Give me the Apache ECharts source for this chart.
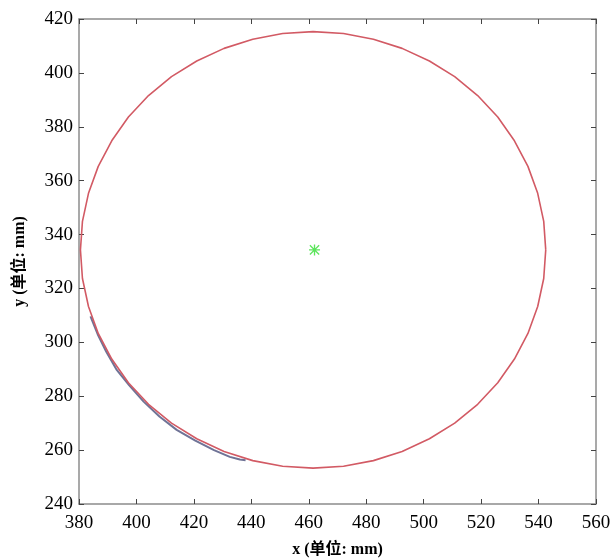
<!DOCTYPE html>
<html>
<head>
<meta charset="utf-8">
<script src="https://cdn.jsdelivr.net/npm/echarts@6/dist/echarts.min.js"></script>
<style>html,body{margin:0;padding:0;background:#fff;}#c{width:613px;height:558px;}</style>
</head>
<body>
<div id="c"></div>
<script>
// Red fitted circle (polygon vertices)
const circleX = [542.5, 541.8, 539.7, 536.3, 531.6, 525.8, 518.8, 510.8, 502.0, 492.5, 482.5, 472.1, 461.5, 450.9, 440.5, 430.5, 421.0, 412.2, 404.2, 397.2, 391.4, 386.7, 383.3, 381.2, 380.5, 381.2, 383.3, 386.7, 391.4, 397.2, 404.2, 412.2, 421.0, 430.5, 440.5, 450.9, 461.5, 472.1, 482.5, 492.5, 502.0, 510.8, 518.8, 525.8, 531.6, 536.3, 539.7, 541.8, 542.5];
const circleY = [334.3, 344.9, 355.3, 365.3, 374.8, 383.6, 391.6, 398.6, 404.4, 409.1, 412.5, 414.6, 415.3, 414.6, 412.5, 409.1, 404.4, 398.6, 391.6, 383.6, 374.8, 365.3, 355.3, 344.9, 334.3, 323.7, 313.3, 303.3, 293.8, 285.0, 277.0, 270.0, 264.2, 259.5, 256.1, 254.0, 253.3, 254.0, 256.1, 259.5, 264.2, 270.0, 277.0, 285.0, 293.8, 303.3, 313.3, 323.7, 334.3];
// Blue measured arc
const arcX = [384.0, 386.5, 389.5, 393.0, 397.5, 402.5, 408.0, 414.0, 420.5, 427.0, 432.5, 436.0, 438.0];
const arcY = [309.6, 303.0, 296.5, 290.0, 284.0, 278.0, 272.5, 267.5, 263.5, 260.0, 257.5, 256.5, 256.2];
// Centre
const centerPt = [462.0, 334.3];
const xTicks = [380, 560, 20];
const yTicks = [240, 420, 20];

const zip = (a, b) => a.map((v, i) => [v, b[i]]);
const font = '"Liberation Serif", "Times New Roman", "Noto Sans CJK SC", serif';
const axCol = '#8c8c8c';

const chart = echarts.init(document.getElementById('c'));
const baseX = {
  type: 'value', min: xTicks[0], max: xTicks[1], interval: xTicks[2],
  axisLine: {show: true, onZero: false, lineStyle: {color: axCol, width: 1.5}},
  axisTick: {show: true, inside: true, length: 5, lineStyle: {color: '#444', width: 1}},
  splitLine: {show: false}
};
const baseY = {
  type: 'value', min: yTicks[0], max: yTicks[1], interval: yTicks[2],
  axisLine: {show: true, onZero: false, lineStyle: {color: axCol, width: 1.5}},
  axisTick: {show: true, inside: true, length: 5, lineStyle: {color: '#444', width: 1}},
  splitLine: {show: false}
};
const star = 'path://M4.4 0 H5.6 V10 H4.4 Z M0 4.4 H10 V5.6 H0 Z M1.2 0.4 L9.6 8.8 L8.8 9.6 L0.4 1.2 Z M8.8 0.4 L9.6 1.2 L1.2 9.6 L0.4 8.8 Z';

chart.setOption({
  animation: false,
  backgroundColor: '#fff',
  grid: {left: 79, right: 17, top: 19, bottom: 54, containLabel: false, outerBoundsMode: 'none'},
  xAxis: [
    Object.assign({}, baseX, {
      position: 'bottom',
      axisLabel: {color: '#000', fontSize: 19, fontFamily: font, margin: 10},
      name: 'x (单位: mm)', nameLocation: 'middle', nameGap: 38,
      nameTextStyle: {color: '#000', fontSize: 16, fontWeight: 'bold', fontFamily: font}
    }),
    Object.assign({}, baseX, {position: 'top', axisLabel: {show: false}})
  ],
  yAxis: [
    Object.assign({}, baseY, {
      position: 'left',
      axisLabel: {color: '#000', fontSize: 19, fontFamily: font, margin: 6},
      name: 'y (单位: mm)', nameLocation: 'middle', nameGap: 51,
      nameTextStyle: {color: '#000', fontSize: 16, fontWeight: 'bold', fontFamily: font}
    }),
    Object.assign({}, baseY, {position: 'right', axisLabel: {show: false}})
  ],
  series: [
    {
      type: 'line', data: zip(arcX, arcY), showSymbol: false, symbol: 'none',
      lineStyle: {color: '#6f7396', width: 2}, z: 2
    },
    {
      type: 'line', data: zip(circleX, circleY), showSymbol: false, symbol: 'none',
      lineStyle: {color: '#d25a64', width: 1.6}, z: 3
    },
    {
      type: 'scatter', data: [centerPt], symbol: star, symbolSize: 11,
      itemStyle: {color: '#33dd33'}, z: 4
    }
  ]
});
</script>
</body>
</html>
